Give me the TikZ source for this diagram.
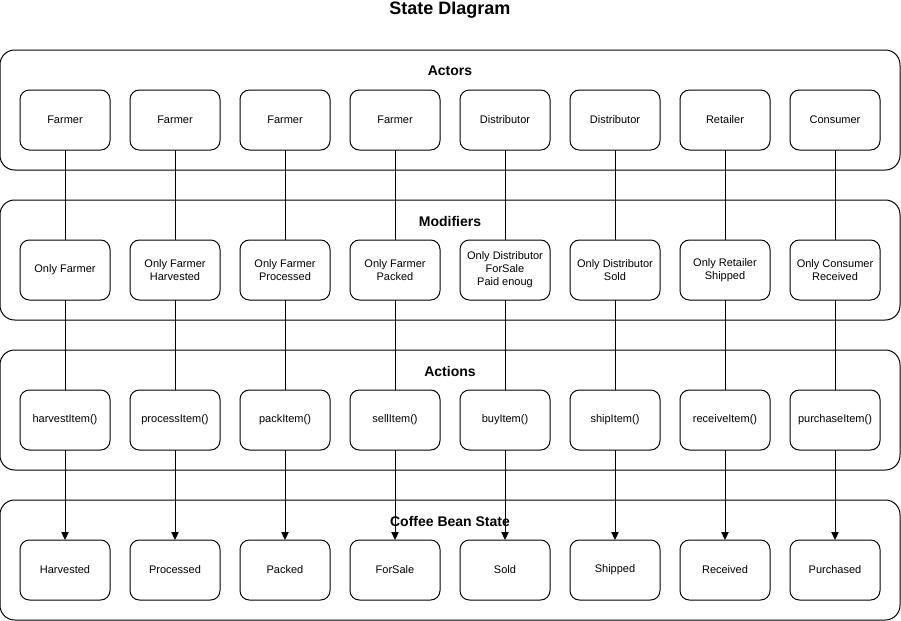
\documentclass[tikz,border=0pt]{standalone}
\usepackage{fontspec}
\setmainfont{Liberation Sans}
\usetikzlibrary{positioning,arrows.meta}
\tikzstyle{lane} = [draw, fill=white, rectangle, rounded corners=11pt,
    line width=0.75pt, minimum width=675pt, minimum height=90pt]
\tikzstyle{block} = [draw, fill=white, rectangle, rounded corners=7pt,
    line width=0.75pt, minimum width=67.5pt, minimum height=45pt,
    align=center, outer sep=0pt, inner sep=1pt,
    font=\fontsize{8.25}{9.75}\selectfont]
\tikzstyle{lanetitle} = [font=\bfseries\fontsize{10.5}{12}\selectfont]
\tikzstyle{link} = [line width=0.75pt]
\tikzstyle{arrow} = [line width=0.75pt,-{Triangle[length=6pt,width=5.5pt]}]

\begin{document}
\begin{tikzpicture}[x=0.75pt, y=-0.75pt, node distance=15pt]
    \useasboundingbox (0,0) rectangle (901,621);
    \node [font=\bfseries\fontsize{13.5}{15}\selectfont] (title) at (450,10) {State DIagram};

    % lanes
    \node [lane] (actors) at (450,110) {};
    \node [lane] (modifiers) at (450,260) {};
    \node [lane] (actions) at (450,410) {};
    \node [lane] (states) at (450,560) {};
    \node [lanetitle] (actorstitle) at (450,71) {Actors};
    \node [lanetitle] (modifierstitle) at (450,221) {Modifiers};
    \node [lanetitle] (actionstitle) at (450,371) {Actions};
    \node [lanetitle] (statestitle) at (450,521) {Coffee Bean State};

    % actors
    \node [block] (a1) at (65,120) {Farmer};
    \node [block, right=of a1] (a2) {Farmer};
    \node [block, right=of a2] (a3) {Farmer};
    \node [block, right=of a3] (a4) {Farmer};
    \node [block, right=of a4] (a5) {Distributor};
    \node [block, right=of a5] (a6) {Distributor};
    \node [block, right=of a6] (a7) {Retailer};
    \node [block, right=of a7] (a8) {Consumer};

    % modifiers
    \node [block] (m1) at (65,270) {Only Farmer};
    \node [block, right=of m1] (m2) {Only Farmer\\Harvested};
    \node [block, right=of m2] (m3) {Only Farmer\\Processed};
    \node [block, right=of m3] (m4) {Only Farmer\\Packed};
    \node [block, right=of m4] (m5) {Only Distributor\\ForSale\\Paid enoug};
    \node [block, right=of m5] (m6) {Only Distributor\\Sold};
    \node [block, right=of m6] (m7) {Only Retailer\\Shipped};
    \node [block, right=of m7] (m8) {Only Consumer\\Received};

    % actions
    \node [block] (c1) at (65,420) {harvestItem()};
    \node [block, right=of c1] (c2) {processItem()};
    \node [block, right=of c2] (c3) {packItem()};
    \node [block, right=of c3] (c4) {sellItem()};
    \node [block, right=of c4] (c5) {buyItem()};
    \node [block, right=of c5] (c6) {shipItem()};
    \node [block, right=of c6] (c7) {receiveItem()};
    \node [block, right=of c7] (c8) {purchaseItem()};

    % coffee bean states
    \node [block] (s1) at (65,570) {Harvested};
    \node [block, right=of s1] (s2) {Processed};
    \node [block, right=of s2] (s3) {Packed};
    \node [block, right=of s3] (s4) {ForSale};
    \node [block, right=of s4] (s5) {Sold};
    \node [block, right=of s5] (s6) {Shipped};
    \node [block, right=of s6] (s7) {Received};
    \node [block, right=of s7] (s8) {Purchased};

    \foreach \i in {1,...,8} {
        \draw [link] (a\i) -- (m\i);
        \draw [link] (m\i) -- (c\i);
        \draw [arrow] (c\i) -- (s\i);
    }
\end{tikzpicture}
\end{document}
